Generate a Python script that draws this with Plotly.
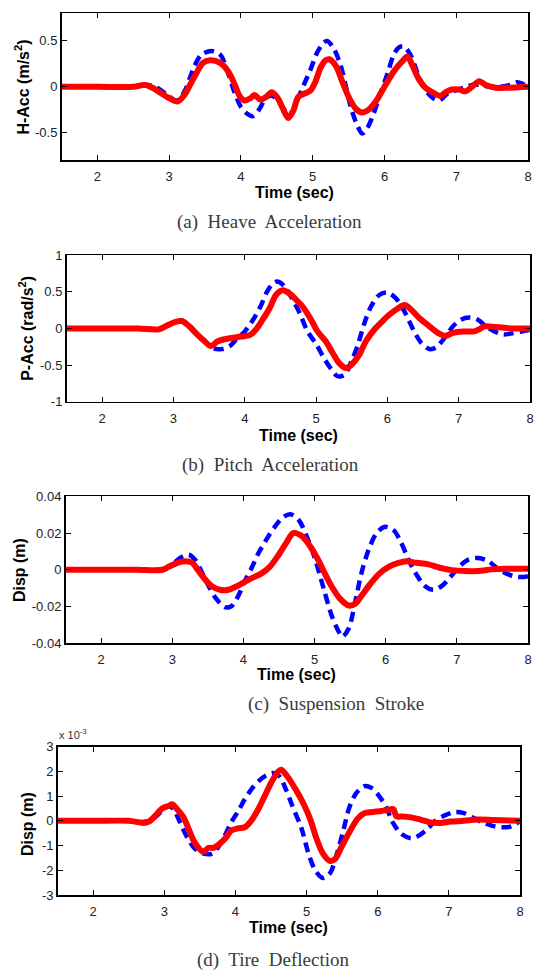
import plotly.graph_objects as go

W, H = 542, 980

# ---------------- data ----------------
# (a) Heave acceleration (m/s^2)
heave_t_red = [1.5, 2.0, 2.5, 2.67, 2.81, 2.99, 3.12, 3.22, 3.31, 3.38, 3.47, 3.57, 3.71, 3.82, 3.91, 3.98,
               4.05, 4.14, 4.19, 4.27, 4.35, 4.43, 4.51, 4.58, 4.66, 4.73, 4.80, 4.90, 4.97, 5.04, 5.11, 5.18,
               5.23, 5.32, 5.41, 5.50, 5.60, 5.69, 5.78, 5.87, 5.97, 6.06, 6.15, 6.25, 6.32, 6.39, 6.48, 6.57,
               6.67, 6.78, 6.85, 6.94, 7.04, 7.13, 7.22, 7.32, 7.41, 7.55, 7.73, 8.0]
heave_red = [0, 0, 0, 0.02, -0.03, -0.12, -0.16, -0.08, 0.05, 0.15, 0.26, 0.29, 0.26, 0.17, 0.03, -0.10,
             -0.15, -0.12, -0.09, -0.14, -0.11, -0.06, -0.12, -0.23, -0.34, -0.26, -0.11, -0.07, -0.04, 0.06, 0.21, 0.29,
             0.30, 0.23, 0.06, -0.11, -0.24, -0.28, -0.25, -0.17, -0.04, 0.08, 0.19, 0.28, 0.33, 0.23, 0.08, -0.01,
             -0.06, -0.10, -0.06, -0.03, -0.03, -0.05, 0.0, 0.06, 0.02, -0.01, -0.01, 0.0]
heave_t_blue = [1.5, 2.0, 2.5, 2.7, 2.85, 2.99, 3.11, 3.22, 3.29, 3.36, 3.45, 3.59, 3.71, 3.82, 3.91, 4.0,
                4.10, 4.17, 4.26, 4.35, 4.44, 4.56, 4.65, 4.71, 4.80, 4.87, 4.97, 5.06, 5.15, 5.20, 5.29, 5.39,
                5.46, 5.53, 5.62, 5.69, 5.76, 5.85, 5.94, 6.04, 6.13, 6.20, 6.27, 6.36, 6.46, 6.55, 6.67, 6.76,
                6.87, 6.99, 7.11, 7.22, 7.34, 7.46, 7.6, 7.75, 7.85, 7.93, 8.0]
heave_blue = [0, 0, 0, 0.02, -0.02, -0.10, -0.15, -0.04, 0.10, 0.24, 0.35, 0.39, 0.35, 0.15, -0.06, -0.22,
              -0.30, -0.32, -0.24, -0.12, -0.10, -0.20, -0.29, -0.28, -0.12, 0.01, 0.19, 0.37, 0.48, 0.50, 0.42, 0.23,
              0.01, -0.22, -0.42, -0.51, -0.45, -0.29, -0.08, 0.14, 0.35, 0.43, 0.44, 0.35, 0.15, -0.01, -0.12, -0.15,
              -0.08, -0.04, -0.01, 0.02, 0.02, 0.0, 0.0, 0.02, 0.05, 0.03, 0.0]

# (b) Pitch acceleration (rad/s^2)
pitch_t_red = [1.5, 2.0, 2.5, 2.8, 2.91, 3.03, 3.12, 3.21, 3.31, 3.42, 3.53, 3.61, 3.70, 3.81, 3.95, 4.07,
               4.16, 4.25, 4.35, 4.44, 4.53, 4.65, 4.74, 4.81, 4.93, 5.02, 5.14, 5.23, 5.33, 5.42, 5.51, 5.61,
               5.70, 5.82, 5.91, 6.03, 6.14, 6.24, 6.33, 6.45, 6.59, 6.71, 6.81, 6.92, 7.06, 7.22, 7.29, 7.36,
               7.52, 7.76, 8.0]
pitch_red = [0, 0, 0, -0.01, 0.04, 0.09, 0.10, 0.04, -0.06, -0.16, -0.24, -0.18, -0.15, -0.13, -0.11, -0.09,
             -0.01, 0.12, 0.28, 0.46, 0.52, 0.46, 0.37, 0.30, 0.12, -0.04, -0.18, -0.33, -0.48, -0.54, -0.48, -0.35,
             -0.17, -0.01, 0.08, 0.19, 0.27, 0.32, 0.26, 0.14, 0.03, -0.06, -0.10, -0.06, -0.04, -0.04, -0.01, 0.03,
             0.02, 0.0, 0.0]
pitch_t_blue = [1.5, 2.0, 2.5, 2.8, 2.91, 3.03, 3.12, 3.21, 3.31, 3.42, 3.56, 3.68, 3.79, 3.88, 4.0, 4.09,
                4.16, 4.23, 4.30, 4.39, 4.46, 4.56, 4.65, 4.77, 4.88, 5.0, 5.12, 5.21, 5.30, 5.40, 5.49, 5.58,
                5.68, 5.77, 5.89, 6.0, 6.12, 6.24, 6.36, 6.47, 6.59, 6.68, 6.80, 6.92, 7.03, 7.15, 7.27, 7.38,
                7.50, 7.62, 7.73, 7.88, 8.0]
pitch_blue = [0, 0, 0, -0.01, 0.04, 0.09, 0.11, 0.05, -0.05, -0.15, -0.27, -0.28, -0.24, -0.15, -0.04, 0.08,
              0.19, 0.32, 0.48, 0.61, 0.64, 0.57, 0.43, 0.21, -0.04, -0.21, -0.42, -0.55, -0.65, -0.63, -0.46, -0.24,
              0.08, 0.30, 0.46, 0.49, 0.41, 0.23, -0.01, -0.19, -0.28, -0.26, -0.13, 0.03, 0.12, 0.15, 0.12, 0.03,
              -0.04, -0.08, -0.07, -0.04, -0.02]

# (c) Suspension stroke (m)
susp_t_red = [1.5, 2.0, 2.5, 2.86, 2.95, 3.07, 3.18, 3.28, 3.37, 3.46, 3.55, 3.67, 3.79, 3.90, 4.02, 4.13,
              4.25, 4.37, 4.48, 4.60, 4.70, 4.82, 4.94, 5.06, 5.15, 5.24, 5.36, 5.48, 5.57, 5.66, 5.78, 5.90,
              6.04, 6.18, 6.29, 6.43, 6.60, 6.76, 6.93, 7.11, 7.30, 7.49, 7.72, 8.0]
susp_red = [0, 0, 0, 0, 0.0016, 0.0038, 0.0047, 0.0038, -0.0007, -0.0052, -0.0088, -0.0109, -0.0109, -0.0091,
            -0.0066, -0.0043, -0.0021, 0.0016, 0.0073, 0.0145, 0.0200, 0.0184, 0.0127, 0.0047, -0.0025, -0.0091,
            -0.0159, -0.0195, -0.0186, -0.0141, -0.0079, -0.0025, 0.0016, 0.0038, 0.0047, 0.0038, 0.0029, 0.0011,
            -0.0002, -0.0007, -0.0007, 0.0002, 0.0005, 0.0005]
susp_t_blue = [1.5, 2.0, 2.5, 2.8, 2.88, 3.0, 3.11, 3.23, 3.32, 3.42, 3.51, 3.62, 3.74, 3.83, 3.93, 4.02,
               4.11, 4.20, 4.32, 4.44, 4.55, 4.66, 4.78, 4.89, 5.01, 5.13, 5.24, 5.34, 5.39, 5.48, 5.57, 5.66,
               5.76, 5.87, 5.99, 6.11, 6.22, 6.32, 6.43, 6.55, 6.67, 6.79, 6.90, 7.02, 7.16, 7.30, 7.44, 7.56,
               7.67, 7.8, 7.9, 8.0]
susp_blue = [0, 0, 0, -0.0005, 0.0, 0.0029, 0.0064, 0.0082, 0.0055, -0.0016, -0.0088, -0.0159, -0.0204, -0.0199,
             -0.0141, -0.0061, 0.0005, 0.0082, 0.0163, 0.0234, 0.0284, 0.0302, 0.0270, 0.0181, 0.0055, -0.0106,
             -0.0249, -0.0338, -0.0365, -0.0320, -0.0177, -0.0016, 0.0109, 0.0199, 0.0234, 0.0216, 0.0145, 0.0055,
             -0.0025, -0.0088, -0.0109, -0.0088, -0.0043, 0.0011, 0.0055, 0.0064, 0.0047, 0.0011, -0.0016, -0.0035,
             -0.0040, -0.0035]

# (d) Tire deflection (m)
tire_t_red = [1.5, 2.0, 2.5, 2.64, 2.71, 2.80, 2.87, 2.97, 3.06, 3.11, 3.18, 3.27, 3.34, 3.41, 3.48, 3.55,
              3.62, 3.69, 3.78, 3.87, 3.94, 4.04, 4.13, 4.22, 4.32, 4.41, 4.50, 4.60, 4.64, 4.73, 4.86, 4.95,
              5.05, 5.14, 5.23, 5.33, 5.40, 5.49, 5.60, 5.72, 5.81, 5.93, 6.05, 6.14, 6.22, 6.26, 6.35, 6.47,
              6.60, 6.74, 6.88, 7.02, 7.21, 7.40, 7.63, 8.0]
tire_red = [0, 0, 0, -0.00006, -0.00009, 0, 0.0002, 0.0005, 0.0006, 0.00067, 0.00047, 0.00014, -0.00032, -0.00079,
            -0.00109, -0.00125, -0.00109, -0.00109, -0.00092, -0.00066, -0.00039, -0.0003, -0.00026, 0, 0.00047,
            0.001, 0.00153, 0.00199, 0.00206, 0.00179, 0.0012, 0.00073, 0.00007, -0.00072, -0.00132, -0.00162,
            -0.00154, -0.00105, -0.00046, 0.0001, 0.00031, 0.00036, 0.0004, 0.00044, 0.00047, 0.00018, 0.00018,
            0.00014, 0.00005, -0.00006, -0.00009, -0.00003, 0, 0.00005, 0.00003, 0]
tire_t_blue = [1.5, 2.0, 2.5, 2.6, 2.75, 2.87, 2.99, 3.06, 3.13, 3.22, 3.32, 3.43, 3.55, 3.67, 3.76, 3.85,
               3.94, 4.04, 4.13, 4.22, 4.32, 4.43, 4.53, 4.62, 4.71, 4.80, 4.93, 5.02, 5.12, 5.23, 5.33, 5.42,
               5.51, 5.60, 5.70, 5.81, 5.91, 6.02, 6.12, 6.21, 6.33, 6.47, 6.58, 6.70, 6.81, 6.95, 7.09, 7.21,
               7.33, 7.47, 7.60, 7.74, 7.88, 8.0]
tire_blue = [0, 0, 0, -0.00005, -0.00002, 0.00014, 0.00047, 0.0006, 0.00047, -0.00006, -0.00066, -0.00112,
             -0.00132, -0.00132, -0.00105, -0.00059, -0.00006, 0.0004, 0.00087, 0.00126, 0.00159, 0.00183, 0.00193,
             0.00179, 0.00126, 0.0006, -0.00032, -0.00126, -0.00199, -0.00231, -0.00211, -0.00138, -0.00046,
             0.00054, 0.00113, 0.0014, 0.00133, 0.001, 0.00054, -0.00006, -0.00052, -0.0007, -0.00059, -0.00032,
             0, 0.00023, 0.00036, 0.00031, 0.00014, -0.00006, -0.00019, -0.00026, -0.00022, 0]

x_ticks = [2, 3, 4, 5, 6, 7, 8]
x_ticktext = ["2", "3", "4", "5", "6", "7", "8"]

heave_ticks = [-0.5, 0, 0.5]
heave_ticktext = ["-0.5", "0", "0.5"]
pitch_ticks = [-1, -0.5, 0, 0.5, 1]
pitch_ticktext = ["-1", "-0.5", "0", "0.5", "1"]
susp_ticks = [-0.04, -0.02, 0, 0.02, 0.04]
susp_ticktext = ["-0.04", "-0.02", "0", "0.02", "0.04"]
tire_ticks = [-0.003, -0.002, -0.001, 0, 0.001, 0.002, 0.003]
tire_ticktext = ["-3", "-2", "-1", "0", "1", "2", "3"]

ylabels = ["H-Acc (m/s<sup>2</sup>)", "P-Acc (rad/s<sup>2</sup>)", "Disp (m)", "Disp (m)"]
captions = ["(a)\u00a0 Heave\u00a0 Acceleration", "(b)\u00a0 Pitch\u00a0 Acceleration",
            "(c)\u00a0 Suspension\u00a0 Stroke", "(d)\u00a0 Tire\u00a0 Deflection"]

# ---------------- layout geometry (pixels) ----------------
# plot boxes: left, right, top, bottom
boxes = [(62, 532, 6.5, 155.5), (67, 534, 252, 401), (66, 532, 497, 646), (58, 524, 751, 902)]
yranges = [(-0.8, 0.8), (-1, 1), (-0.04, 0.04), (-0.003, 0.003)]
ytick_sets = [(heave_ticks, heave_ticktext), (pitch_ticks, pitch_ticktext),
              (susp_ticks, susp_ticktext), (tire_ticks, tire_ticktext)]
ytitle_pos = [(22, 81), (26, 326), (19, 572), (27, 830)]
xtitle_y = [188, 435, 678, 935]
caption_pos = [(271, 218), (273, 465), (338, 708), (275, 968)]

series = [(heave_t_red, heave_red, heave_t_blue, heave_blue),
          (pitch_t_red, pitch_red, pitch_t_blue, pitch_blue),
          (susp_t_red, susp_red, susp_t_blue, susp_blue),
          (tire_t_red, tire_red, tire_t_blue, tire_blue)]


def px(x):
    return x / W


def py(y):
    return 1 - y / H


SANS = "Liberation Sans, Arial, sans-serif"
SERIF = "Liberation Serif, Times New Roman, serif"

fig = go.Figure()
layout = dict(width=W, height=H, margin=dict(l=0, r=0, t=0, b=0), autosize=False,
              plot_bgcolor="white", paper_bgcolor="white", showlegend=False)
annotations = []

for i in range(4):
    n = "" if i == 0 else str(i + 1)
    tr, vr, tb, vb = series[i]
    fig.add_trace(go.Scatter(x=tb, y=vb, mode="lines", xaxis="x" + n, yaxis="y" + n,
                             line=dict(color="#0000FF", width=4.5, dash="10px,6px", shape="spline", smoothing=0.9)))
    fig.add_trace(go.Scatter(x=tr, y=vr, mode="lines", xaxis="x" + n, yaxis="y" + n,
                             line=dict(color="#FF0000", width=6, shape="spline", smoothing=0.9)))
    l, r, t, b = boxes[i]
    common = dict(showline=True, linecolor="black", linewidth=1.5, mirror="ticks", ticks="inside",
                  ticklen=5, tickwidth=1, tickcolor="black", showgrid=False, zeroline=False,
                  tickfont=dict(family=SANS, size=13, color="#222222"), fixedrange=True)
    layout["xaxis" + n] = dict(common, domain=[px(l), px(r)], range=[1.5, 8.0005], tickvals=x_ticks,
                               ticktext=x_ticktext, anchor="y" + n, ticklabelstandoff=4)
    tv, tt = ytick_sets[i]
    layout["yaxis" + n] = dict(common, domain=[py(b), py(t)], range=list(yranges[i]), tickvals=tv,
                               ticktext=tt, anchor="x" + n)
    # y title
    yx, yy = ytitle_pos[i]
    annotations.append(dict(x=px(yx), y=py(yy), xref="paper", yref="paper", text="<b>" + ylabels[i] + "</b>",
                            showarrow=False, textangle=-90, xanchor="center", yanchor="middle",
                            font=dict(family=SANS, size=16, color="black")))
    # x title
    annotations.append(dict(x=px((l + r) / 2), y=py(xtitle_y[i]), xref="paper", yref="paper",
                            text="<b>Time (sec)</b>", showarrow=False, xanchor="center", yanchor="middle",
                            font=dict(family=SANS, size=16, color="black")))
    # caption
    cx, cy = caption_pos[i]
    annotations.append(dict(x=px(cx), y=py(cy), xref="paper", yref="paper", text=captions[i],
                            showarrow=False, xanchor="center", yanchor="middle",
                            font=dict(family=SERIF, size=19, color="#3a3a3a")))

# exponent label of panel (d)
annotations.append(dict(x=px(57), y=py(747), xref="paper", yref="paper", text="x 10<sup>-3</sup>",
                        showarrow=False, xanchor="left", yanchor="bottom",
                        font=dict(family=SANS, size=11, color="#333333")))

layout["annotations"] = annotations
fig.update_layout(**layout)
fig.write_html("out.html", config={"displayModeBar": False, "staticPlot": True},
               post_script="document.body.style.margin='0';document.body.style.overflow='hidden';")
